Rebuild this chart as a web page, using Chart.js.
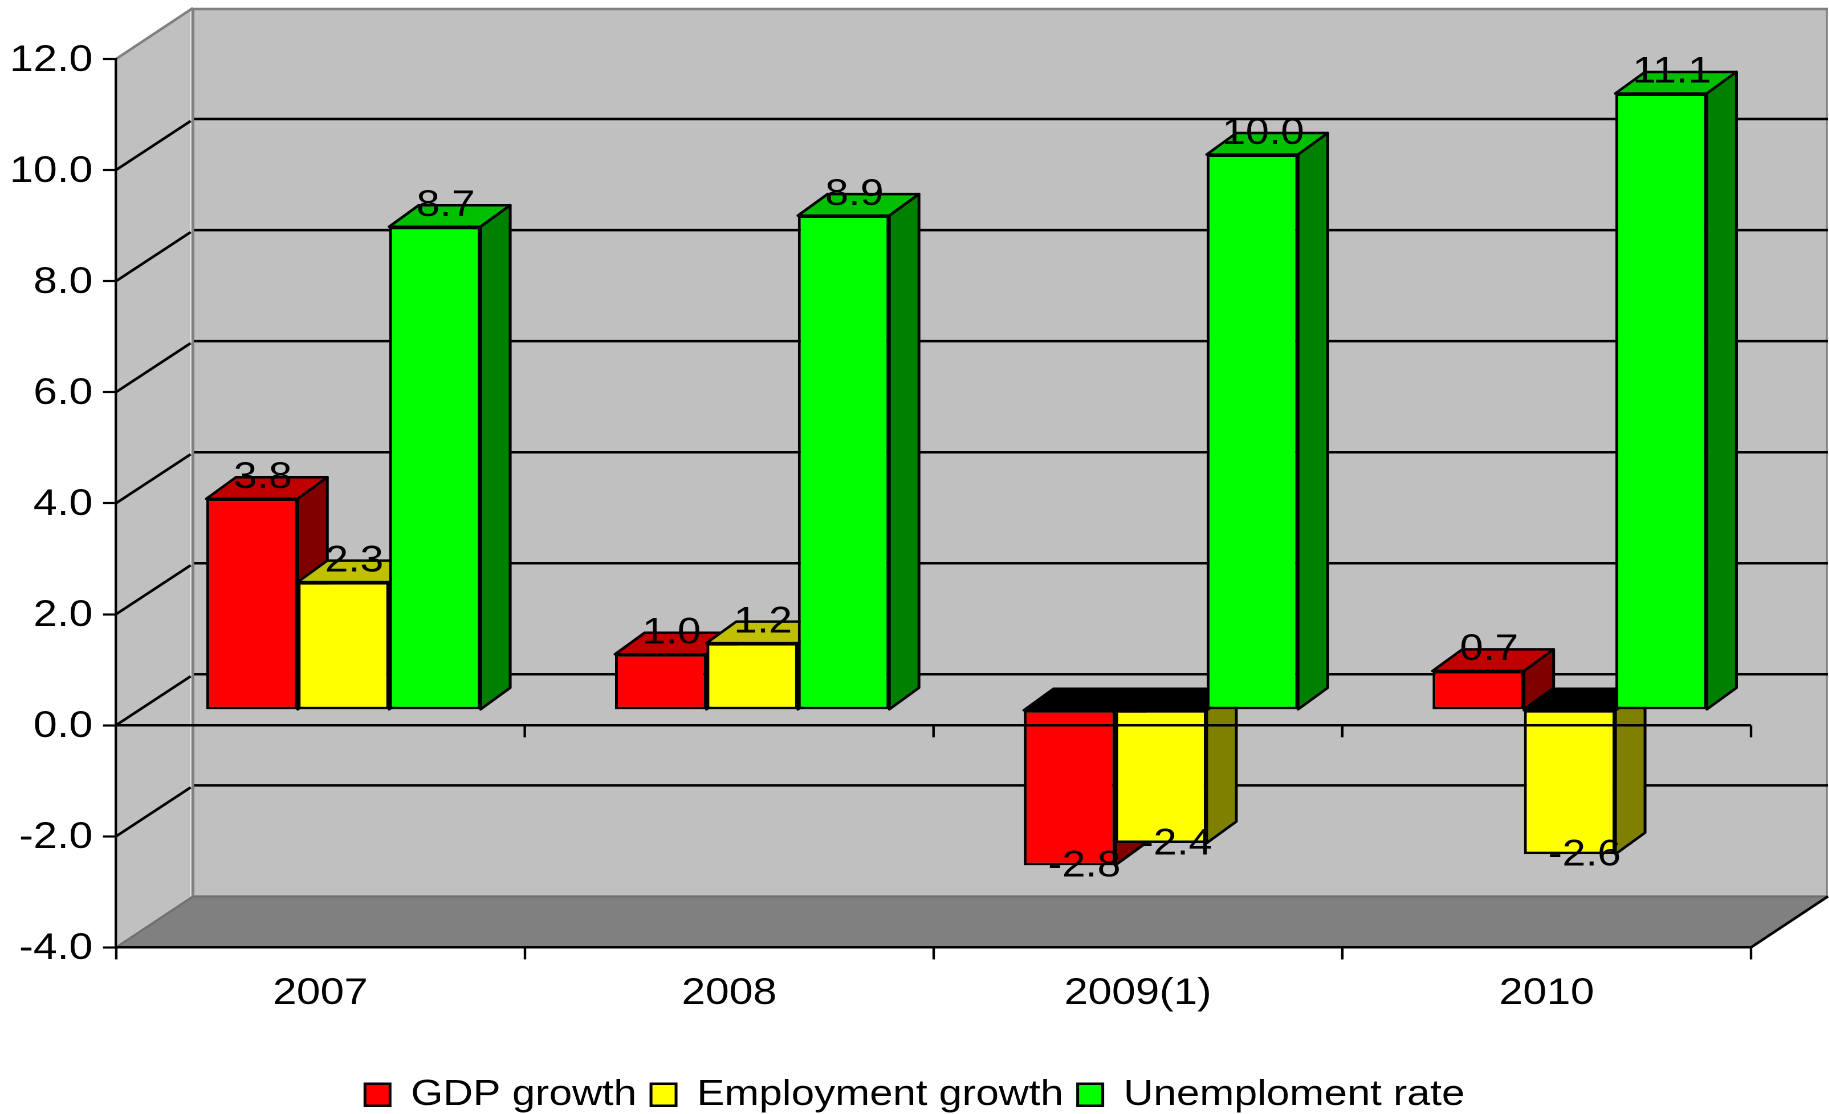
<!DOCTYPE html>
<html>
<head>
<meta charset="utf-8">
<script src="https://cdn.jsdelivr.net/npm/chart.js@4"></script>
<style>
html,body{margin:0;padding:0;background:#fff;overflow:hidden;width:1829px;height:1114px}
#wrap{position:absolute;left:0;top:0;width:1605px;height:1114px;transform:scale(1.14,1);transform-origin:0 0}
</style>
</head>
<body>
<div id="wrap"><canvas id="c" width="1605" height="1114"></canvas></div>
<script>
const categories = ['2007', '2008', '2009(1)', '2010'];
const gdpGrowth = [3.8, 1.0, -2.8, 0.7];
const employmentGrowth = [2.3, 1.2, -2.4, -2.6];
const unemploymentRate = [8.7, 8.9, 10.0, 11.1];
const seriesNames = ['GDP growth', 'Employment growth', 'Unemploment rate'];

const frontColors = ['#ff0000', '#ffff00', '#00ff00'];
const topColors = ['#c00000', '#c0c000', '#00c000'];
const sideColors = ['#800000', '#808000', '#008000'];
const FONT = '"Liberation Sans", Arial, sans-serif';

const WALL_DX = 67.5, WALL_DY = 51;      // depth of the back wall
const BAR_DX = 20.2, BAR_DY = 15.5;      // bars stand inside the depth
const SIDE_DX = 26, SIDE_DY = 21.5;      // depth of each bar
const LEGEND_SHIFT = 9;
const RIGHT_PAD = 69;

function poly(ctx, pts, fill, stroke, lw) {
  ctx.beginPath();
  pts.forEach((p, i) => i ? ctx.lineTo(p[0], p[1]) : ctx.moveTo(p[0], p[1]));
  ctx.closePath();
  if (fill) { ctx.fillStyle = fill; ctx.fill(); }
  if (stroke) { ctx.strokeStyle = stroke; ctx.lineWidth = lw; ctx.lineJoin = 'round'; ctx.stroke(); }
}
function seg(ctx, x0, y0, x1, y1, color, lw) {
  ctx.beginPath(); ctx.moveTo(x0, y0); ctx.lineTo(x1, y1);
  ctx.strokeStyle = color; ctx.lineWidth = lw; ctx.stroke();
}

const walls = {
  id: 'walls',
  beforeDraw(chart) {
    const { ctx, chartArea: a, scales: { y } } = chart;
    const L = a.left, R = a.right, T = a.top, B = a.bottom;
    ctx.save();
    poly(ctx, [[L + WALL_DX, T - WALL_DY], [R + WALL_DX, T - WALL_DY], [R + WALL_DX, B - WALL_DY], [L + WALL_DX, B - WALL_DY]], '#c0c0c0');
    poly(ctx, [[L, T], [L + WALL_DX, T - WALL_DY], [L + WALL_DX, B - WALL_DY], [L, B]], '#c0c0c0');
    poly(ctx, [[L, B], [L + WALL_DX, B - WALL_DY], [R + WALL_DX, B - WALL_DY], [R, B]], '#808080');
    seg(ctx, L + WALL_DX, B - WALL_DY, R + WALL_DX, B - WALL_DY, '#6e6e6e', 2);
    seg(ctx, L + WALL_DX - 2, T - WALL_DY, L + WALL_DX - 2, B - WALL_DY, '#e6e6e6', 1);
    seg(ctx, L + WALL_DX, T - WALL_DY, L + WALL_DX, B - WALL_DY, '#808080', 2.5);
    seg(ctx, L + WALL_DX, T - WALL_DY + 1, R + WALL_DX, T - WALL_DY + 1, '#808080', 2.5);
    seg(ctx, R + WALL_DX - 1, T - WALL_DY, R + WALL_DX - 1, B - WALL_DY, '#808080', 1.5);
    seg(ctx, L, T, L + WALL_DX, T - WALL_DY, '#808080', 2.5);
    seg(ctx, L, B, L + WALL_DX, B - WALL_DY, '#707070', 2);
    seg(ctx, R, B, R + WALL_DX, B - WALL_DY, '#000', 2.5);
    y.ticks.forEach(t => {
      if (t.value <= y.min || t.value >= y.max) return;
      const py = y.getPixelForValue(t.value);
      seg(ctx, L, py, L + WALL_DX - 2, py - WALL_DY + 2, '#000', 2.5);
      seg(ctx, L + WALL_DX + 1, py - WALL_DY, R + WALL_DX, py - WALL_DY, '#000', 2.5);
    });
    ctx.restore();
  }
};

const bars3d = {
  id: 'bars3d',
  beforeDatasetsDraw(chart) {
    const { ctx } = chart;
    ctx.save();
    ctx.translate(BAR_DX, -BAR_DY);
    chart.data.datasets.forEach((ds, di) => {
      const meta = chart.getDatasetMeta(di);
      meta.data.forEach((el, i) => {
        const { x, y, base, width } = el.getProps(['x', 'y', 'base', 'width'], true);
        const xl = x - width / 2, xr = x + width / 2;
        const t = Math.min(y, base), b = Math.max(y, base);
        const topFill = ds.data[i] < 0 ? '#000000' : topColors[di];
        poly(ctx, [[xl, t], [xl + SIDE_DX, t - SIDE_DY], [xr + SIDE_DX, t - SIDE_DY], [xr, t]], topFill, '#000', 2.5);
        poly(ctx, [[xr, t], [xr + SIDE_DX, t - SIDE_DY], [xr + SIDE_DX, b - SIDE_DY], [xr, b]], sideColors[di], '#000', 2.5);
      });
    });
  },
  afterDatasetsDraw(chart) {
    const { ctx, chartArea: a, scales: { x: xs, y: ys } } = chart;
    ctx.restore();
    ctx.save();
    const zero = ys.getPixelForValue(0);
    seg(ctx, a.left, zero, a.right, zero, '#000', 2.5);
    categories.forEach((c, i) => {
      const px = xs.getPixelForValue(i + 0.5);
      seg(ctx, px, zero, px, zero + 12, '#000', 2.2);
    });
    ctx.font = '37px ' + FONT;
    ctx.fillStyle = '#000';
    ctx.textAlign = 'center';
    ctx.textBaseline = 'middle';
    chart.data.datasets.forEach((ds, di) => {
      chart.getDatasetMeta(di).data.forEach((el, i) => {
        const v = ds.data[i];
        const { x, y } = el.getProps(['x', 'y'], true);
        const lx = x + BAR_DX + (v < 0 ? 13 : 9.5);
        const ly = y - BAR_DY + (v < 0 ? 1 : -21);
        ctx.fillText(v.toFixed(1), lx, ly);
      });
    });
    ctx.restore();
  },
  afterLayout(chart) {
    chart.legend.top += LEGEND_SHIFT;
    chart.legend.bottom += LEGEND_SHIFT;
    chart.legend.right += RIGHT_PAD;
    chart.legend.width += RIGHT_PAD;
  }
};

const makeSet = (label, data, i) => ({
  label, data,
  backgroundColor: frontColors[i],
  borderColor: '#000',
  borderWidth: 2.5,
  borderSkipped: false,
  clip: false
});

new Chart(document.getElementById('c'), {
  type: 'bar',
  data: {
    labels: categories,
    datasets: [
      makeSet(seriesNames[0], gdpGrowth, 0),
      makeSet(seriesNames[1], employmentGrowth, 1),
      makeSet(seriesNames[2], unemploymentRate, 2)
    ]
  },
  plugins: [walls, bars3d],
  options: {
    responsive: false,
    devicePixelRatio: 2,
    animation: false,
    layout: { padding: { left: 0, right: RIGHT_PAD, top: 59, bottom: 0 } },
    datasets: { bar: { barPercentage: 1, categoryPercentage: 0.671 } },
    plugins: {
      tooltip: { enabled: false },
      title: { display: false },
      legend: {
        position: 'bottom',
        labels: {
          boxWidth: 22, boxHeight: 22, padding: 12.5, color: '#000',
          font: { family: FONT, size: 36.4 }
        }
      }
    },
    scales: {
      x: {
        grid: { drawOnChartArea: false, drawTicks: true, tickLength: 12, tickWidth: 2.2, tickColor: '#000', offset: true },
        border: { display: true, color: '#000', width: 2.5 },
        ticks: { color: '#000', font: { family: FONT, size: 37.5 }, padding: 12, maxRotation: 0 },
        afterFit(s) { s.height = 107.7; }
      },
      y: {
        min: -4, max: 12,
        grid: { drawOnChartArea: false, drawTicks: true, tickLength: 11.4, tickWidth: 2.2, tickColor: '#000' },
        border: { display: true, color: '#000', width: 2.2 },
        ticks: {
          stepSize: 2, color: '#000', padding: 9, labelOffset: 1.5,
          font: { family: FONT, size: 37.5 },
          callback: v => Number(v).toFixed(1)
        },
        afterFit(s) { s.width = 101.75; }
      }
    }
  }
});
</script>
</body>
</html>
